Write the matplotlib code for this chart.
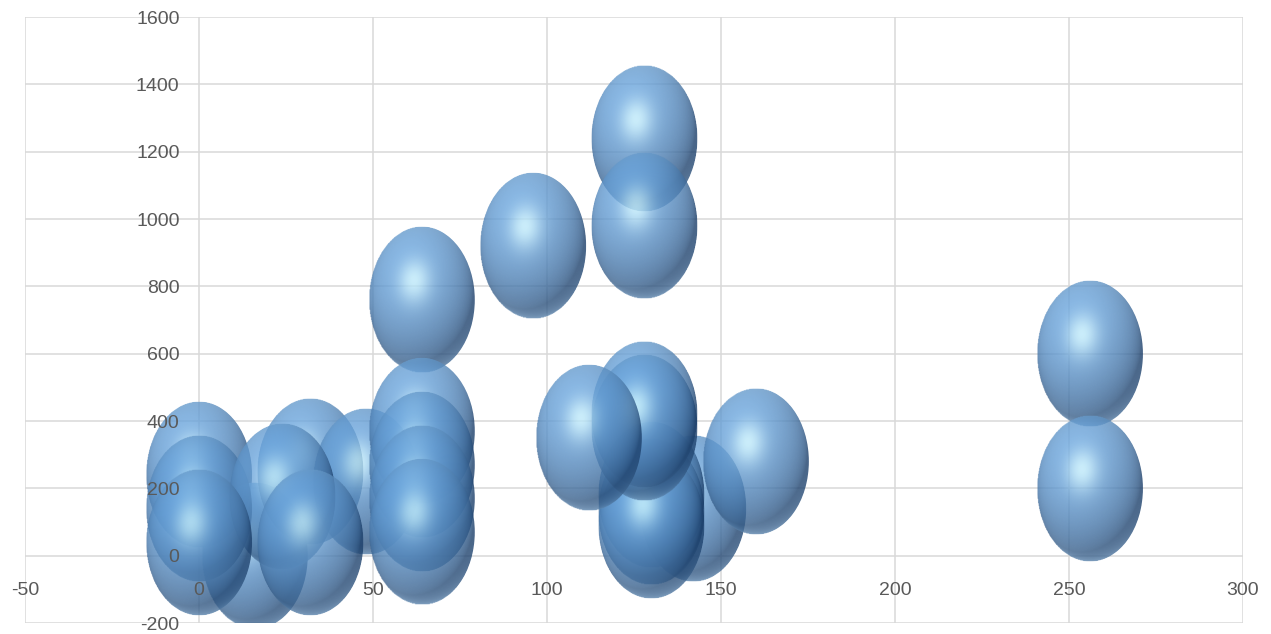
import numpy as np
import matplotlib
matplotlib.use("Agg")
import matplotlib.pyplot as plt
from matplotlib.patches import Ellipse

plt.rcParams['font.family'] = ['Liberation Sans Narrow', 'Liberation Sans', 'DejaVu Sans']
plt.rcParams['axes.unicode_minus'] = False

# bubble data, listed back to front
bubble_x = [0, 16, 0, 32, 48, 24, 0, 32,
            64, 64, 64, 64, 64,
            96, 128, 128,
            142, 130, 130, 130, 128, 128, 112, 160,
            256, 256]
bubble_y = [240, 0, 140, 250, 220, 175, 40, 40,
            760, 370, 270, 170, 70,
            920, 1240, 980,
            140, 180, 130, 90, 420, 380, 350, 280,
            600, 200]
bubble_size = [10] * len(bubble_x)

x_ticks = list(range(-50, 301, 50))
y_ticks = list(range(-200, 1601, 200))

# bubble extent in data units for a size of 10
W_PER_SIZE = 3.05
H_PER_SIZE = 43.6


def sphere_rgba(n=200):
    t = np.linspace(-1, 1, n)
    u, v = np.meshgrid(t, t)          # v grows downward (image rows)
    r2 = u ** 2 + v ** 2
    nz = np.sqrt(np.clip(1 - r2, 0, 1))
    light = np.array([-0.30, -0.50, 0.81])
    light /= np.linalg.norm(light)
    lam = np.clip(u * light[0] + v * light[1] + nz * light[2], 0, 1)
    half = light + np.array([0, 0, 1.0])
    half /= np.linalg.norm(half)
    spec = np.clip(u * half[0] + v * half[1] + nz * half[2], 0, 1) ** 22

    dark = np.array([0.11, 0.25, 0.42])
    base = np.array([0.42, 0.65, 0.87])
    hi = np.array([0.80, 0.96, 1.0])
    col = dark + (base - dark) * (lam[..., None] ** 0.75)
    col = col + (hi - col) * (0.85 * spec[..., None])
    # soft bounce light along the lower rim
    rim = np.clip(v, 0, 1) ** 2 * (1 - nz) ** 1.2
    col = col + (np.array([0.60, 0.78, 0.93]) - col) * (0.6 * rim[..., None])
    # lighter upper rim
    top = np.clip(-v, 0, 1) ** 2 * (1 - nz) ** 2
    col = col + (np.array([0.56, 0.76, 0.92]) - col) * (0.45 * top[..., None])

    alpha = np.where(r2 <= 1, 0.80, 0.0)
    return np.dstack([np.clip(col, 0, 1), alpha])


fig = plt.figure(figsize=(12.71, 6.34), dpi=100)
ax = fig.add_axes([25 / 1271, 11 / 634, 1218 / 1271, 606 / 634])

# gridlines drawn under the bubbles
for xv in x_ticks:
    ax.axvline(xv, color='#d9d9d9', linewidth=1.1, zorder=1)
for yv in y_ticks:
    ax.axhline(yv, color='#d9d9d9', linewidth=1.1, zorder=1)

img = sphere_rgba()
for i, (x, y, s) in enumerate(zip(bubble_x, bubble_y, bubble_size)):
    w = W_PER_SIZE * s
    h = H_PER_SIZE * s
    ell = Ellipse((x, y), w, h, facecolor='none', edgecolor='none')
    ax.add_patch(ell)
    im = ax.imshow(img, extent=[x - w / 2, x + w / 2, y - h / 2, y + h / 2],
                   origin='upper', interpolation='bilinear', aspect='auto',
                   zorder=3 + i * 0.01)
    im.set_clip_path(ell)

ax.set_xlim(-50, 300)
ax.set_ylim(-200, 1600)
ax.set_aspect('auto')
ax.set_xticks(x_ticks)
ax.set_yticks(y_ticks)

for side in ax.spines:
    ax.spines[side].set_visible(False)
ax.spines['left'].set_position(('data', 0))
ax.spines['bottom'].set_position(('data', 0))

ax.tick_params(axis='both', length=0, labelsize=14, labelcolor='#595959')
ax.tick_params(axis='y', pad=14)
ax.tick_params(axis='x', pad=19)
# tick labels sit on top of the bubbles
ax.xaxis.set_zorder(10)
ax.yaxis.set_zorder(10)

fig.savefig("out.png", dpi=100)
